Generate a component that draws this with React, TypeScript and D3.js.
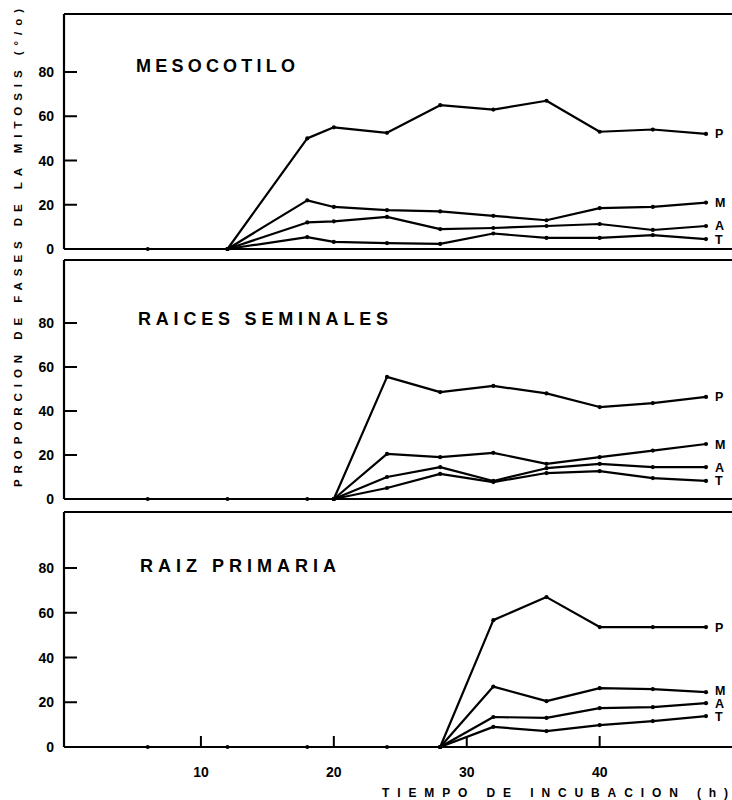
import React from "react";
import * as d3 from "d3";

const times = [12, 18, 20, 24, 28, 32, 36, 40, 44, 48];
const mesoP = [0, 50, 55, 52.5, 65, 63, 67, 53, 54, 52];
const mesoM = [0, 22, 19, 17.6, 17, 15, 13, 18.5, 19, 21];
const mesoA = [0, 12, 12.5, 14.5, 9, 9.5, 10.4, 11.3, 8.6, 10.4];
const mesoT = [0, 5.4, 3.2, 2.7, 2.3, 7, 5, 5, 6.3, 4.5];
const mesoZeros = [6];

const semTimes = [20, 24, 28, 32, 36, 40, 44, 48];
const semP = [0, 55.5, 48.6, 51.4, 48, 41.8, 43.6, 46.4];
const semM = [0, 20.5, 19, 21, 16, 19, 22, 25];
const semA = [0, 10, 14.5, 8.2, 14, 16, 14.5, 14.5];
const semT = [0, 5, 11.4, 7.7, 11.8, 12.7, 9.5, 8.2];
const semZeros = [6, 12, 18];

const primTimes = [28, 32, 36, 40, 44, 48];
const primP = [0, 56.7, 67, 53.6, 53.6, 53.6];
const primM = [0, 27, 20.5, 26.3, 25.9, 24.5];
const primA = [0, 13.4, 13, 17.4, 17.8, 19.6];
const primT = [0, 9, 7.1, 9.8, 11.6, 13.8];
const primZeros = [6, 12, 18, 24];

const seriesNames = ["P", "M", "A", "T"];
const yTicks = [0, 20, 40, 60, 80];
const xTicks = [10, 20, 30, 40];
const panelTitles = ["MESOCOTILO", "RAICES SEMINALES", "RAIZ PRIMARIA"];

const FONT = "'Liberation Sans', Arial, sans-serif";

const panels = [
  { title: panelTitles[0], t: times, s: [mesoP, mesoM, mesoA, mesoT], zeros: mesoZeros, top: 14, y0: 249, y80: 72, titleX: 136, titleW: 159, titleY: 72 },
  { title: panelTitles[1], t: semTimes, s: [semP, semM, semA, semT], zeros: semZeros, top: 260, y0: 499, y80: 323, titleX: 138, titleW: 250, titleY: 325 },
  { title: panelTitles[2], t: primTimes, s: [primP, primM, primA, primT], zeros: primZeros, top: 512, y0: 747, y80: 568, titleX: 140, titleW: 196, titleY: 572 },
];

function labelYs(ys: number[], gap: number): number[] {
  const order = ys.map((v, i) => i).sort((a, b) => ys[b] - ys[a]);
  const out = ys.slice();
  let prev = Infinity;
  for (const i of order) {
    let v = ys[i];
    if (v > prev - gap) v = prev - gap;
    out[i] = v;
    prev = v;
  }
  return out;
}

export default function App() {
  const W = 732, H = 800;
  const x = d3.scaleLinear().domain([0, 48]).range([68, 706]);
  const axisX = 64;
  return (
    <svg width={W} height={H} style={{ position: "absolute", left: 0, top: 0, background: "#fff" }}>
      <rect width={W} height={H} fill="#fff" />
      {panels.map((p, pi) => {
        const y = d3.scaleLinear().domain([0, 80]).range([p.y0, p.y80]);
        const line = d3.line<number>().x((_, i) => x(p.t[i])).y((v) => y(v));
        const ly = labelYs(p.s.map((vals) => y(vals[vals.length - 1])), 13);
        return (
          <g key={pi}>
            <line x1={axisX} x2={W} y1={p.top} y2={p.top} stroke="#000" strokeWidth={2.2} />
            <line x1={axisX} x2={W} y1={p.y0} y2={p.y0} stroke="#000" strokeWidth={2.2} />
            <line x1={axisX} x2={axisX} y1={p.top} y2={p.y0} stroke="#000" strokeWidth={2.2} />
            {yTicks.map((v) => (
              <g key={v}>
                {v > 0 && <line x1={axisX} x2={axisX + 13} y1={y(v)} y2={y(v)} stroke="#000" strokeWidth={2} />}
                <text x={54} y={y(v) + 5} textAnchor="end" fontFamily={FONT} fontWeight="bold" fontSize={14} fill="#000">{v}</text>
              </g>
            ))}
            <text x={p.titleX} y={p.titleY} fontFamily={FONT} fontWeight="bold" fontSize={18} textLength={p.titleW} lengthAdjust="spacing" fill="#000">{p.title}</text>
            {p.zeros.map((t) => (
              <circle key={t} cx={x(t)} cy={p.y0} r={2} fill="#000" />
            ))}
            {p.s.map((vals, si) => (
              <g key={si}>
                <path d={line(vals) || ""} fill="none" stroke="#000" strokeWidth={2.2} strokeLinejoin="round" />
                {vals.map((v, i) => (
                  <circle key={i} cx={x(p.t[i])} cy={y(v)} r={2.1} fill="#000" />
                ))}
                <text x={715} y={ly[si] + 4.5} fontFamily={FONT} fontWeight="bold" fontSize={12.5} fill="#000">{seriesNames[si]}</text>
              </g>
            ))}
            {pi === 2 && xTicks.map((t) => (
              <g key={t}>
                <line x1={x(t)} x2={x(t)} y1={p.y0} y2={p.y0 - 11} stroke="#000" strokeWidth={2} />
                <text x={x(t)} y={p.y0 + 30} textAnchor="middle" fontFamily={FONT} fontWeight="bold" fontSize={14} fill="#000">{t}</text>
              </g>
            ))}
          </g>
        );
      })}
      <text transform="translate(22,248) rotate(-90)" textAnchor="middle" fontFamily={FONT} fontWeight="bold" fontSize={11.5} textLength={478} lengthAdjust="spacing" fill="#000">PROPORCION DE FASES DE LA MITOSIS (°/o)</text>
      <text x={382} y={797} fontFamily={FONT} fontWeight="bold" fontSize={12} textLength={346} lengthAdjust="spacing" fill="#000">TIEMPO DE INCUBACION (h)</text>
    </svg>
  );
}
